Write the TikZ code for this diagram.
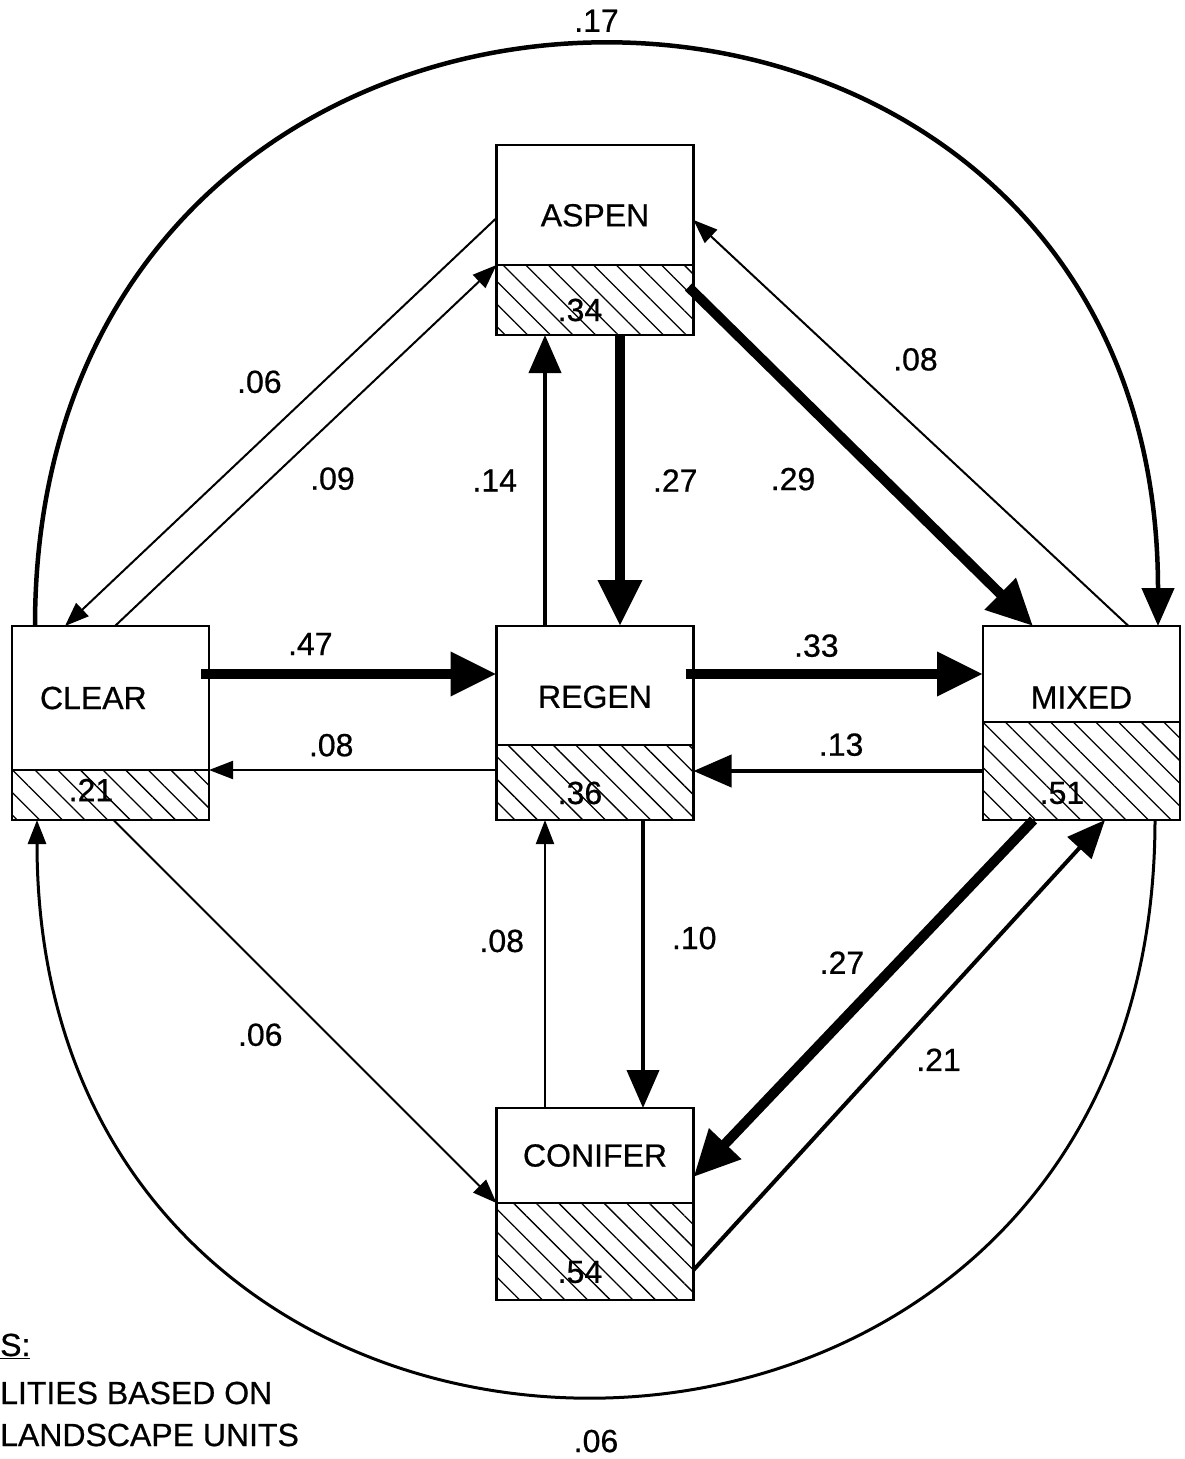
\documentclass[tikz,border=0pt]{standalone}
\usepackage{fontspec}
\setmainfont{Liberation Sans}[FakeBold=0.6]
\usetikzlibrary{arrows.meta,positioning,patterns.meta}

\begin{document}
\begin{tikzpicture}[
x=1pt,
y=-1pt,
every node/.style={font=\fontsize{32}{36}\selectfont},
unit/.style={rectangle,draw,line width=2.5pt,outer sep=0pt,inner sep=0pt,minimum width=197pt},
cover/.style={rectangle,draw,line width=2.5pt,outer sep=0pt,inner sep=0pt,minimum width=197pt,pattern={Lines[angle=-45,distance=16pt,line width=1.3pt]}},
frac/.style={inner sep=0pt},
lbl/.style={inner sep=0pt},
note/.style={inner sep=0pt,anchor=base west},
thinarr/.style={-{Triangle[length=24pt,width=18pt]},line width=2pt},
midarr/.style={-{Triangle[length=38pt,width=32pt]},line width=4pt},
fatarr/.style={-{Triangle[length=46pt,width=42pt]},line width=10pt}
]
\useasboundingbox (0,0) rectangle (1185,1459);

\node[unit,minimum height=120pt,text height=43pt] (aspen) at (595,205) {ASPEN};
\node[cover,minimum height=70pt,below=0pt of aspen] (aspenp) {};
\node[unit,minimum height=144pt,text width=141pt,align=left] (clear) at (110.5,698) {CLEAR};
\node[cover,minimum height=50pt,below=0pt of clear] (clearp) {};
\node[unit,minimum height=119pt,text height=45pt] (regen) at (595,685.5) {REGEN};
\node[cover,minimum height=75pt,below=0pt of regen] (regenp) {};
\node[unit,minimum height=96pt,text height=69pt] (mixed) at (1081.5,674) {MIXED};
\node[cover,minimum height=98pt,below=0pt of mixed] (mixedp) {};
\node[unit,minimum height=95pt] (conifer) at (595,1155.5) {CONIFER};
\node[cover,minimum height=97pt,below=0pt of conifer] (coniferp) {};

\node[frac] (aspenv) at ([shift={(-15,10)}]aspenp.center) {.34};
\node[frac] (clearv) at ([shift={(-19.5,-5)}]clearp.center) {.21};
\node[frac] (regenv) at ([shift={(-15,10.5)}]regenp.center) {.36};
\node[frac] (mixedv) at ([shift={(-19.5,22)}]mixedp.center) {.51};
\node[frac] (coniferv) at ([shift={(-15,20.5)}]coniferp.center) {.54};

\draw[fatarr] ([shift={(-8,-24)}]clear.east) -- node[lbl,pos=0.37,above=14pt]{.47} ([shift={(0,-11.5)}]regen.west);
\draw[thinarr] ([shift={(0,-12.5)}]regenp.west) -- node[lbl,pos=0.575,above=12.5pt]{.08} (clear.south east);
\draw[fatarr] ([shift={(-8,-11.5)}]regen.east) -- node[lbl,pos=0.44,above=12pt]{.33} (mixed.west);
\draw[midarr] (mixedp.west) -- node[lbl,pos=0.49,above=13pt]{.13} (regenp.east |- mixedp.west);
\draw[midarr] ([shift={(-50,0)}]regen.north) -- node[lbl,pos=0.5,left=26pt]{.14} ([shift={(-50,0)}]aspenp.south);
\draw[fatarr] ([shift={(25,0)}]aspenp.south) -- node[lbl,pos=0.5,right=28pt]{.27} ([shift={(25,0)}]regen.north);
\draw[midarr] ([shift={(48,0)}]regenp.south) -- node[lbl,pos=0.41,right=27pt]{.10} ([shift={(48,0)}]conifer.north);
\draw[thinarr] ([shift={(-50,0)}]conifer.north) -- node[lbl,pos=0.58,left=20pt]{.08} ([shift={(-50,0)}]regenp.south);

\draw[thinarr] ([shift={(0,13)}]aspen.west) -- node[lbl,pos=0.48,shift={(-30,-32)}]{.06} ([shift={(-45.5,0)}]clear.north);
\draw[thinarr] ([shift={(4.5,0)}]clear.north) -- node[lbl,pos=0.494,shift={(29,31)}]{.09} (aspenp.north west);
\draw[thinarr] ([shift={(47,0)}]mixed.north) -- node[lbl,pos=0.568,shift={(34,-36)}]{.08} ([shift={(0,15)}]aspen.east);
\draw[fatarr] ([shift={(-5,-13)}]aspenp.east) -- node[lbl,pos=0.434,shift={(-45,45)}]{.29} ([shift={(-48.5,0)}]mixed.north);
\draw[fatarr] ([shift={(-48,0)}]mixedp.south) -- node[lbl,pos=0.478,shift={(-29,-28)}]{.27} ([shift={(0,21.5)}]conifer.east);
\draw[midarr] ([shift={(0,18.5)}]coniferp.east) -- node[lbl,pos=0.525,shift={(29,26)}]{.21} ([shift={(23.5,0)}]mixedp.south);
\draw[thinarr] ([shift={(3,0)}]clearp.south) -- node[lbl,pos=0.472,shift={(-34,34)}]{.06} (coniferp.north west);

\draw[midarr,line width=4.5pt] ([shift={(-75.5,0)}]clear.north) .. controls +(0,-772) and +(0,-772) .. ([shift={(76.5,0)}]mixed.north) node[lbl,pos=0.5,above=13pt]{.17};
\draw[thinarr,line width=3pt] ([shift={(73.5,0)}]mixedp.south) .. controls +(0,767) and +(0,767) .. ([shift={(-73.5,0)}]clearp.south) node[lbl,pos=0.5,below=33pt]{.06};

\node[note] (notehead) at (0,1356) {\underline{S:}};
\node[note] (noteline1) at (0,1404) {LITIES BASED ON};
\node[note] (noteline2) at (0,1446) {LANDSCAPE UNITS};
\end{tikzpicture}
\end{document}
